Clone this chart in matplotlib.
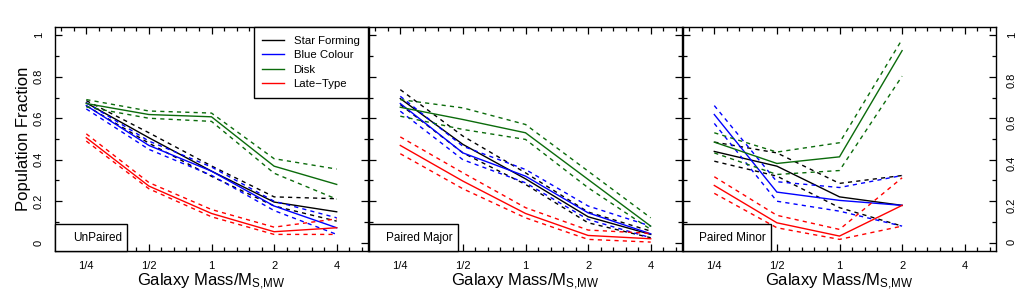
import numpy as np
import matplotlib
matplotlib.use("Agg")
import matplotlib.pyplot as plt
from matplotlib.patches import Rectangle
from matplotlib.ticker import FixedLocator, FixedFormatter, MultipleLocator, FuncFormatter

plt.rcParams['font.family'] = ['Liberation Sans', 'DejaVu Sans']
plt.rcParams['mathtext.fontset'] = 'custom'
plt.rcParams['mathtext.rm'] = 'Liberation Sans'
plt.rcParams['mathtext.it'] = 'Liberation Sans'

# ---------------- data ----------------
mass_log2 = [-2, -1, 0, 1, 2]
mass_labels = ['1/4', '1/2', '1', '2', '4']
series_names = ['Star Forming', 'Blue Colour', 'Disk', 'Late\u2212Type']
series_colors = ['black', 'blue', '#0b6b0b', 'red']
panel_names = ['UnPaired', 'Paired Major', 'Paired Minor']

# UnPaired
unp_sf = [0.674, 0.506, 0.345, 0.196, 0.149]
unp_sf_hi = [0.685, 0.530, 0.370, 0.221, 0.212]
unp_sf_lo = [0.660, 0.480, 0.320, 0.177, 0.104]
unp_blue = [0.661, 0.469, 0.345, 0.177, 0.072]
unp_blue_hi = [0.675, 0.490, 0.365, 0.200, 0.120]
unp_blue_lo = [0.645, 0.450, 0.325, 0.155, 0.040]
unp_disk = [0.671, 0.618, 0.607, 0.369, 0.281]
unp_disk_hi = [0.690, 0.635, 0.625, 0.405, 0.355]
unp_disk_lo = [0.655, 0.600, 0.585, 0.335, 0.210]
unp_late = [0.506, 0.273, 0.141, 0.053, 0.072]
unp_late_hi = [0.525, 0.290, 0.160, 0.075, 0.115]
unp_late_lo = [0.490, 0.260, 0.125, 0.040, 0.040]

# Paired Major
maj_sf = [0.695, 0.474, 0.308, 0.125, 0.040]
maj_sf_hi = [0.738, 0.514, 0.337, 0.148, 0.056]
maj_sf_lo = [0.666, 0.433, 0.281, 0.096, 0.024]
maj_blue = [0.671, 0.433, 0.321, 0.144, 0.043]
maj_blue_hi = [0.706, 0.465, 0.353, 0.177, 0.080]
maj_blue_lo = [0.634, 0.400, 0.289, 0.112, 0.024]
maj_disk = [0.653, 0.594, 0.530, 0.305, 0.080]
maj_disk_hi = [0.690, 0.650, 0.570, 0.345, 0.120]
maj_disk_lo = [0.610, 0.546, 0.498, 0.265, 0.064]
maj_late = [0.469, 0.297, 0.141, 0.035, 0.019]
maj_late_hi = [0.510, 0.337, 0.169, 0.061, 0.045]
maj_late_lo = [0.429, 0.260, 0.120, 0.016, 0.003]

# Paired Minor (no value at 4)
nan = np.nan
min_sf = [0.440, 0.369, 0.221, 0.180, nan]
min_sf_hi = [0.485, 0.433, 0.286, 0.324, nan]
min_sf_lo = [0.393, 0.321, 0.169, 0.080, nan]
min_blue = [0.618, 0.244, 0.204, 0.180, nan]
min_blue_hi = [0.661, 0.294, 0.266, 0.324, nan]
min_blue_lo = [0.575, 0.200, 0.152, 0.080, nan]
min_disk = [0.485, 0.382, 0.414, 0.926, nan]
min_disk_hi = [0.530, 0.437, 0.482, 0.980, nan]
min_disk_lo = [0.433, 0.329, 0.348, 0.803, nan]
min_late = [0.276, 0.096, 0.032, 0.180, nan]
min_late_hi = [0.318, 0.132, 0.064, 0.313, nan]
min_late_lo = [0.238, 0.072, 0.016, 0.080, nan]

panels = [
    [(unp_sf, unp_sf_lo, unp_sf_hi), (unp_blue, unp_blue_lo, unp_blue_hi),
     (unp_disk, unp_disk_lo, unp_disk_hi), (unp_late, unp_late_lo, unp_late_hi)],
    [(maj_sf, maj_sf_lo, maj_sf_hi), (maj_blue, maj_blue_lo, maj_blue_hi),
     (maj_disk, maj_disk_lo, maj_disk_hi), (maj_late, maj_late_lo, maj_late_hi)],
    [(min_sf, min_sf_lo, min_sf_hi), (min_blue, min_blue_lo, min_blue_hi),
     (min_disk, min_disk_lo, min_disk_hi), (min_late, min_late_lo, min_late_hi)],
]
box_widths = [0.229, 0.283, 0.280]


def yfmt(v, pos):
    s = '%.1f' % v
    if s.endswith('.0'):
        s = s[:-2]
    return s


# ---------------- figure ----------------
W, H = 1024, 307
fig = plt.figure(figsize=(W / 100, H / 100), dpi=100)
lefts = [55, 369, 683]
pw = 313
bottom = (H - 251) / H
height = 224 / H

axes = []
for i in range(3):
    ax = fig.add_axes([lefts[i] / W, bottom, pw / W, height])
    axes.append(ax)
    for (c, lo, hi), col in zip(panels[i], series_colors):
        ax.plot(mass_log2, c, color=col, lw=1.0, solid_joinstyle='miter')
        for b in (lo, hi):
            ax.plot(mass_log2, b, color=col, lw=1.0, dashes=(3.0, 3.0))
    ax.set_xlim(-2.5, 2.5)
    ax.set_ylim(-0.04, 1.04)
    ax.xaxis.set_major_locator(FixedLocator(mass_log2))
    ax.xaxis.set_major_formatter(FixedFormatter(mass_labels))
    ax.xaxis.set_minor_locator(FixedLocator(np.arange(-2.4, 2.41, 0.2)))
    ax.yaxis.set_major_locator(MultipleLocator(0.2))
    ax.yaxis.set_major_formatter(FuncFormatter(yfmt))
    ax.yaxis.set_minor_locator(MultipleLocator(0.1))
    ax.tick_params(which='both', direction='in', top=True, right=True,
                   width=0.9, colors='black')
    ax.tick_params(which='major', length=5)
    ax.tick_params(which='minor', length=3)
    ax.tick_params(axis='x', labelsize=8, pad=7)
    ax.tick_params(axis='y', labelsize=8, pad=8, labelrotation=90)
    for lab in ax.get_yticklabels():
        lab.set_va('center')
    ax.tick_params(axis='y', labelleft=(i == 0), labelright=(i == 2))
    for s in ax.spines.values():
        s.set_linewidth(1.0)
    ax.set_xlabel('Galaxy Mass/M$_{\\mathrm{S{,}MW}}$', fontsize=12, labelpad=1)
    # panel name box
    bw = box_widths[i]
    ax.add_patch(Rectangle((0, 0), bw, 0.1205, transform=ax.transAxes,
                           facecolor='white', edgecolor='black', lw=1.0,
                           zorder=5, clip_on=False))
    ax.text(bw - 5 / pw, 0.06, panel_names[i], transform=ax.transAxes,
            ha='right', va='center', fontsize=8.5, zorder=6)

axes[0].set_ylabel('Population Fraction', fontsize=12, labelpad=2)

handles = [axes[0].lines[k * 3] for k in range(4)]
leg = axes[0].legend(handles, series_names, loc='upper right',
                     borderaxespad=0, fancybox=False, framealpha=1,
                     edgecolor='black', fontsize=8.2, handlelength=1.9,
                     handletextpad=0.85, labelspacing=0.4, borderpad=0.75)
leg.get_frame().set_linewidth(1.0)
leg.set_zorder(10)

fig.savefig('out.png', dpi=100)
